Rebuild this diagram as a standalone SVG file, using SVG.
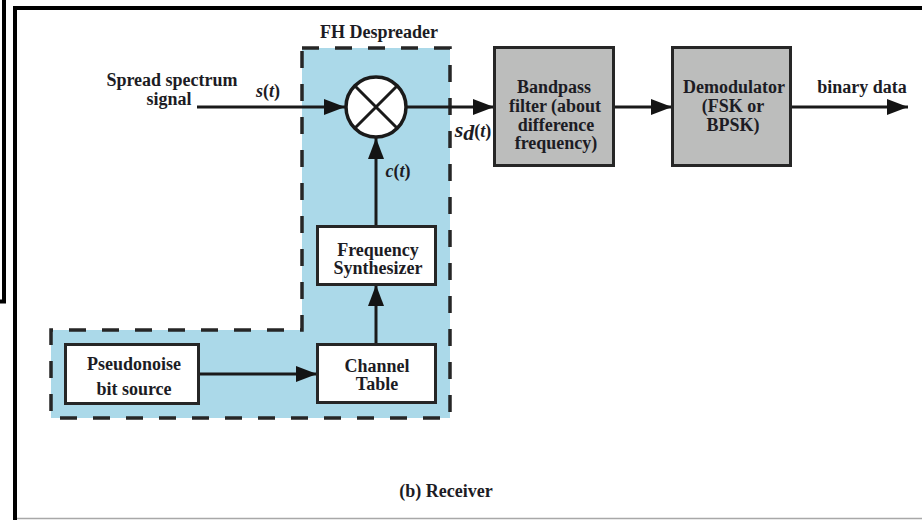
<svg xmlns="http://www.w3.org/2000/svg" width="922" height="520" viewBox="0 0 922 520">
<style>
.t{font-family:"Liberation Serif","Times New Roman",serif;font-weight:700;font-size:18px;fill:#1c1c24;text-anchor:middle}
.i{font-style:italic}
.b{stroke:#262626;stroke-width:3;fill:#fff}
.g{fill:#bcbdbc}
.l{stroke:#1a1a1a;stroke-width:3;fill:none}
</style>
<defs>
<marker id="a" markerUnits="userSpaceOnUse" markerWidth="22" markerHeight="16" refX="21" refY="8" orient="auto"><path d="M0 0L21 8L0 16Z" fill="#141414"/></marker>
</defs>
<rect width="922" height="520" fill="#fff"/>
<g id="frame">
<path d="M4 0V301.500H0" fill="none" stroke="#000" stroke-width="4"/>
<path d="M15 520V8H922" fill="none" stroke="#000" stroke-width="4"/>
<path d="M17 518.500H922" stroke="#a8a8a8" stroke-width="1.500"/>
</g>
<g id="despreader">
<path d="M302 48H450V418H51V330H302Z" fill="#abd9e9"/>
<path d="M302 48H450V418H51V330H302Z" fill="none" stroke="#262626" stroke-width="3.500" stroke-dasharray="17 16"/>
<text class="t" x="379" y="38">FH Despreader</text>
</g>
<g id="connectors">
<path class="l" d="M197 107H345" marker-end="url(#a)"/>
<path class="l" d="M407 107H494" marker-end="url(#a)"/>
<path class="l" d="M614 107H672" marker-end="url(#a)"/>
<path class="l" d="M791 107H908" marker-end="url(#a)"/>
<path class="l" d="M376 226V138" marker-end="url(#a)"/>
<path class="l" d="M376 344V285" marker-end="url(#a)"/>
<path class="l" d="M199 374H317" marker-end="url(#a)"/>
</g>
<g id="mixer">
<circle cx="376" cy="107" r="30" fill="#fff" stroke="#1a1a1a" stroke-width="3.500"/>
<path class="l" d="M355 86L397 128M397 86L355 128" stroke-width="3.500"/>
</g>
<g id="bandpass">
<rect class="b g" x="494.500" y="47.500" width="119" height="118"/>
<text class="t" x="554" y="93">Bandpass</text>
<text class="t" x="555" y="112">filter (about</text>
<text class="t" x="556" y="131">difference</text>
<text class="t" x="556" y="149">frequency)</text>
</g>
<g id="demodulator">
<rect class="b g" x="672.500" y="47.500" width="118" height="118"/>
<text class="t" x="734" y="93">Demodulator</text>
<text class="t" x="733" y="112">(FSK or</text>
<text class="t" x="733" y="131">BPSK)</text>
</g>
<g id="synthesizer">
<rect class="b" x="317.500" y="226.500" width="118" height="58"/>
<text class="t" x="378" y="256">Frequency</text>
<text class="t" x="378" y="274">Synthesizer</text>
</g>
<g id="channel">
<rect class="b" x="317.500" y="344.500" width="118" height="58"/>
<text class="t" x="377" y="372">Channel</text>
<text class="t" x="377" y="390">Table</text>
</g>
<g id="pseudonoise">
<rect class="b" x="65.500" y="344.500" width="133" height="59"/>
<text class="t" x="134" y="370">Pseudonoise</text>
<text class="t" x="134" y="395">bit source</text>
</g>
<g id="labels">
<text class="t" x="172" y="86">Spread spectrum</text>
<text class="t" x="169" y="105" style="text-anchor:middle">signal</text>
<text class="t" x="268" y="97"><tspan class="i">s</tspan>(<tspan class="i">t</tspan>)</text>
<text class="t" x="398" y="177"><tspan class="i">c</tspan>(<tspan class="i">t</tspan>)</text>
<text class="t" x="473" y="137"><tspan class="i" font-size="22">s</tspan><tspan class="i" font-size="22" dy="3">d</tspan><tspan dy="-3">(</tspan><tspan class="i">t</tspan>)</text>
<text class="t" x="862" y="93">binary data</text>
<text class="t" x="446" y="497">(b) Receiver</text>
</g>
</svg>
